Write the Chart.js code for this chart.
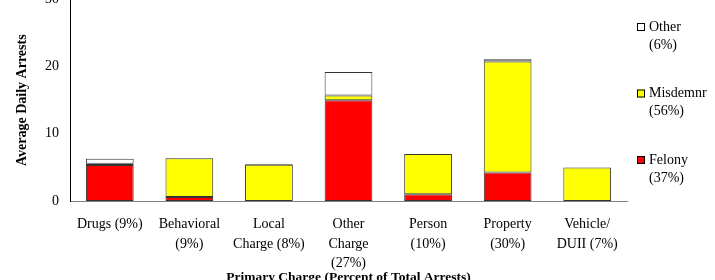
<!DOCTYPE html>
<html>
<head>
<meta charset="utf-8">
<script src="https://cdn.jsdelivr.net/npm/chart.js@4.4.0/dist/chart.umd.min.js"></script>
<style>
    html, body { margin: 0; padding: 0; background: #fff; overflow: hidden; }
    #wrap { position: absolute; left: 0; top: -20px; width: 715px; height: 306px; }
</style>
</head>
<body>
<div id="wrap"><canvas id="arrestsChart" width="715" height="306"></canvas></div>
<script>
const categories = [
    'Drugs (9%)',
    ['Behavioral', '(9%)'],
    ['Local', 'Charge (8%)'],
    ['Other', 'Charge', '(27%)'],
    ['Person', '(10%)'],
    ['Property', '(30%)'],
    ['Vehicle/', 'DUII (7%)']
];
const felony = [5.35, 0.6, 0, 15.0, 1.0, 4.25, 0];
const misdemnr = [0.2, 5.75, 5.4, 0.7, 6.0, 16.5, 5.0];
const other = [0.75, 0.05, 0.1, 3.5, 0, 0.35, 0];
const seriesLabels = ['Felony', 'Misdemnr', 'Other'];
const seriesShares = ['(37%)', '(56%)', '(6%)'];
const yTicks = [0, 10, 20, 30];

const FONT = "'Liberation Serif', 'Times New Roman', serif";

// legend is drawn by hand: top-to-bottom Other, Misdemnr, Felony, two lines each
const sideLegend = {
    id: 'sideLegend',
    afterDraw(chart) {
        const ctx = chart.ctx;
        const x = chart.chartArea.right + 10;
        const rows = [2, 1, 0];
        ctx.save();
        ctx.font = '14px ' + FONT;
        ctx.textBaseline = 'middle';
        ctx.textAlign = 'left';
        rows.forEach((dsIndex, i) => {
            const ds = chart.data.datasets[dsIndex];
            const y = 47 + i * 66.5;
            ctx.fillStyle = ds.backgroundColor;
            ctx.fillRect(x, y - 4, 8, 8);
            ctx.strokeStyle = '#000';
            ctx.lineWidth = 1;
            ctx.strokeRect(x + 0.5, y - 3.5, 7, 7);
            ctx.fillStyle = '#000';
            ctx.fillText(seriesLabels[dsIndex], x + 12, y);
            ctx.fillText(seriesShares[dsIndex], x + 12, y + 18);
        });
        ctx.restore();
    }
};

new Chart(document.getElementById('arrestsChart'), {
    type: 'bar',
    data: {
        labels: categories,
        datasets: [
            { label: seriesLabels[0], data: felony, backgroundColor: '#ff0000' },
            { label: seriesLabels[1], data: misdemnr, backgroundColor: '#ffff00' },
            { label: seriesLabels[2], data: other, backgroundColor: '#ffffff' }
        ].map(ds => Object.assign(ds, {
            borderColor: '#333',
            borderWidth: (c) => (c.raw > 0 ? 1 : 0),
            borderSkipped: false,
            barPercentage: 0.6,
            categoryPercentage: 1
        }))
    },
    options: {
        responsive: false,
        devicePixelRatio: 1,
        animation: false,
        layout: { padding: { top: 14, right: 88, left: 0, bottom: 0 } },
        plugins: {
            legend: { display: false },
            tooltip: { enabled: false }
        },
        scales: {
            x: {
                stacked: true,
                grid: { display: false, drawTicks: false },
                border: { color: '#808080', width: 1 },
                ticks: {
                    color: '#000',
                    font: { family: FONT, size: 14, lineHeight: 1.38 },
                    padding: 14,
                    maxRotation: 0,
                    autoSkip: false
                },
                title: {
                    display: true,
                    text: 'Primary Charge (Percent of Total Arrests)',
                    color: '#000',
                    font: { family: FONT, size: 13.5, weight: 'bold' },
                    padding: { top: 0, bottom: 0 }
                },
                afterFit(scale) { scale.height = 85; }
            },
            y: {
                stacked: true,
                min: 0,
                max: 30,
                grid: { display: false, drawTicks: false },
                border: { color: '#000', width: 1 },
                afterBuildTicks(scale) { scale.ticks = yTicks.map(v => ({ value: v })); },
                ticks: {
                    color: '#000',
                    font: { family: FONT, size: 14 },
                    padding: 11
                },
                title: {
                    display: true,
                    text: 'Average Daily Arrests',
                    color: '#000',
                    font: { family: FONT, size: 14, weight: 'bold' },
                    padding: { top: 14, bottom: 0 }
                },
                afterFit(scale) { scale.width = 70; }
            }
        }
    },
    plugins: [sideLegend]
});
</script>
</body>
</html>
